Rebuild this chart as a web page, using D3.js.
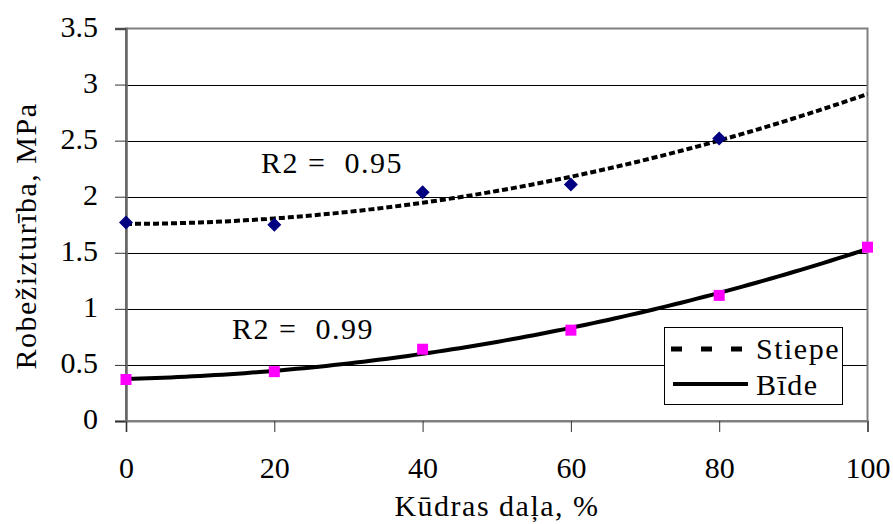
<!DOCTYPE html>
<html>
<head>
<meta charset="utf-8">
<script src="https://cdn.jsdelivr.net/npm/d3@7"></script>
</head>
<body style="margin:0">
<svg class="chart"></svg>
<script>
/* data */
var xValues = [0, 20, 40, 60, 80, 100];
var stiepe = [1.77, 1.75, 2.04, 2.11, 2.52];          // no point at 100
var bide = [0.37, 0.44, 0.64, 0.81, 1.12, 1.55];
var yTicks = [0, 0.5, 1, 1.5, 2, 2.5, 3, 3.5];
var seriesNames = ["Stiepe", "Bīde"];
var r2Labels = ["R2 =\u00a0 0.95", "R2 =\u00a0 0.99"];

var W = 893, H = 524;
var plot = {left: 126, right: 867.5, top: 28.5, bottom: 421};

var svg = d3.select(".chart")
    .attr("width", W)
    .attr("height", H);

var x = d3.scaleLinear().domain([0, 100]).range([plot.left, plot.right]);
var y = d3.scaleLinear().domain([0, 3.5]).range([plot.bottom, plot.top]);

// least squares polynomial (order 2) like the spreadsheet trendline
function polyFit(xs, ys) {
  var n = xs.length, s = [0, 0, 0, 0, 0], t = [0, 0, 0];
  for (var i = 0; i < n; i++) {
    for (var k = 0; k < 5; k++) s[k] += Math.pow(xs[i], k);
    for (var k = 0; k < 3; k++) t[k] += ys[i] * Math.pow(xs[i], k);
  }
  var m = [[s[0], s[1], s[2], t[0]], [s[1], s[2], s[3], t[1]], [s[2], s[3], s[4], t[2]]];
  for (var c = 0; c < 3; c++) {
    for (var r = c + 1; r < 3; r++) {
      var f = m[r][c] / m[c][c];
      for (var j = c; j < 4; j++) m[r][j] -= f * m[c][j];
    }
  }
  var a = [0, 0, 0];
  for (var r = 2; r >= 0; r--) {
    var v = m[r][3];
    for (var j = r + 1; j < 3; j++) v -= m[r][j] * a[j];
    a[r] = v / m[r][r];
  }
  return function(v) { return a[0] + a[1] * v + a[2] * v * v; };
}

var fitS = polyFit(xValues.slice(0, stiepe.length), stiepe);
var fitB = polyFit(xValues, bide);
var curveX = d3.range(0, 100.5, 1);

function serif(sel) {
  sel.attr("font-family", "Liberation Serif").attr("font-size", 30).attr("fill", "#000");
}
function spaced(sel) {
  sel.call(serif).attr("letter-spacing", 1.5);
}

// gridlines
svg.append("g")
  .selectAll("line")
  .data(yTicks.filter(function(d) { return d > 0 && d < 3.5; }))
  .enter().append("line")
    .attr("x1", plot.left)
    .attr("x2", plot.right)
    .attr("y1", function(d) { return Math.round(y(d)) + 0.5; })
    .attr("y2", function(d) { return Math.round(y(d)) + 0.5; })
    .attr("stroke", "#000")
    .attr("stroke-width", 1);

// plot border
svg.append("rect")
    .attr("x", plot.left)
    .attr("y", plot.top)
    .attr("width", plot.right - plot.left)
    .attr("height", plot.bottom - plot.top)
    .attr("fill", "none")
    .attr("stroke", "#808080")
    .attr("stroke-width", 2);

// y axis
var yAxis = d3.axisLeft(y)
    .tickValues(yTicks)
    .tickSize(11)
    .tickPadding(17)
    .tickFormat(d3.format("~g"));

var gy = svg.append("g")
    .attr("class", "yaxis")
    .attr("transform", "translate(" + plot.left + ",0)")
    .call(yAxis);
gy.select(".domain").attr("stroke", "#666").attr("stroke-width", 2.5);
gy.selectAll(".tick line").attr("stroke", "#333");
gy.selectAll(".tick text")
    .call(serif)
    .attr("dy", "0.25em");

// x axis
var xAxis = d3.axisBottom(x)
    .tickValues(xValues)
    .tickSize(11)
    .tickPadding(25);

var gx = svg.append("g")
    .attr("class", "xaxis")
    .attr("transform", "translate(0," + plot.bottom + ")")
    .call(xAxis);
gx.select(".domain").attr("stroke", "#808080").attr("stroke-width", 2);
gx.selectAll(".tick line").attr("stroke", "#333");
gx.selectAll(".tick text").call(serif);

// trendlines
var line = d3.line()
    .x(function(d) { return x(d[0]); })
    .y(function(d) { return y(d[1]); });

svg.append("path")
    .datum(curveX.map(function(v) { return [v, fitS(v)]; }))
    .attr("d", line)
    .attr("fill", "none")
    .attr("stroke", "#000")
    .attr("stroke-width", 4)
    .attr("stroke-dasharray", "6,3");

svg.append("path")
    .datum(curveX.map(function(v) { return [v, fitB(v)]; }))
    .attr("d", line)
    .attr("fill", "none")
    .attr("stroke", "#000")
    .attr("stroke-width", 4);

// markers
svg.append("g")
  .selectAll("path")
  .data(stiepe)
  .enter().append("path")
    .attr("d", "M0,-7L7,0L0,7L-7,0Z")
    .attr("transform", function(d, i) { return "translate(" + x(xValues[i]) + "," + y(d) + ")"; })
    .attr("fill", "#000080");

svg.append("g")
  .selectAll("rect")
  .data(bide)
  .enter().append("rect")
    .attr("x", function(d, i) { return x(xValues[i]) - 5.5; })
    .attr("y", function(d) { return y(d) - 5.5; })
    .attr("width", 11)
    .attr("height", 11)
    .attr("fill", "#ff00ff");

// R2 labels
svg.append("text")
    .attr("x", 261)
    .attr("y", 173)
    .call(spaced)
    .text(r2Labels[0]);

svg.append("text")
    .attr("x", 232)
    .attr("y", 339)
    .call(spaced)
    .text(r2Labels[1]);

// legend
var legend = svg.append("g").attr("class", "legend");
legend.append("rect")
    .attr("x", 664.5)
    .attr("y", 327.5)
    .attr("width", 178)
    .attr("height", 77)
    .attr("fill", "#fff")
    .attr("stroke", "#000")
    .attr("stroke-width", 1);
legend.append("line")
    .attr("x1", 671).attr("x2", 745)
    .attr("y1", 349).attr("y2", 349)
    .attr("stroke", "#000")
    .attr("stroke-width", 5)
    .attr("stroke-dasharray", "11,19");
legend.append("line")
    .attr("x1", 673).attr("x2", 748)
    .attr("y1", 384).attr("y2", 384)
    .attr("stroke", "#000")
    .attr("stroke-width", 4);
legend.selectAll("text.lab")
  .data(seriesNames)
  .enter().append("text")
    .attr("class", "lab")
    .attr("x", 756)
    .attr("y", function(d, i) { return 359 + i * 36; })
    .call(spaced)
    .text(function(d) { return d; });

// axis titles
svg.append("text")
    .attr("x", 497)
    .attr("y", 516)
    .attr("text-anchor", "middle")
    .call(spaced)
    .text("Kūdras daļa, %");

svg.append("text")
    .attr("transform", "translate(36,236) rotate(-90)")
    .attr("text-anchor", "middle")
    .call(spaced)
    .text("Robežizturība, MPa");
</script>
</body>
</html>
